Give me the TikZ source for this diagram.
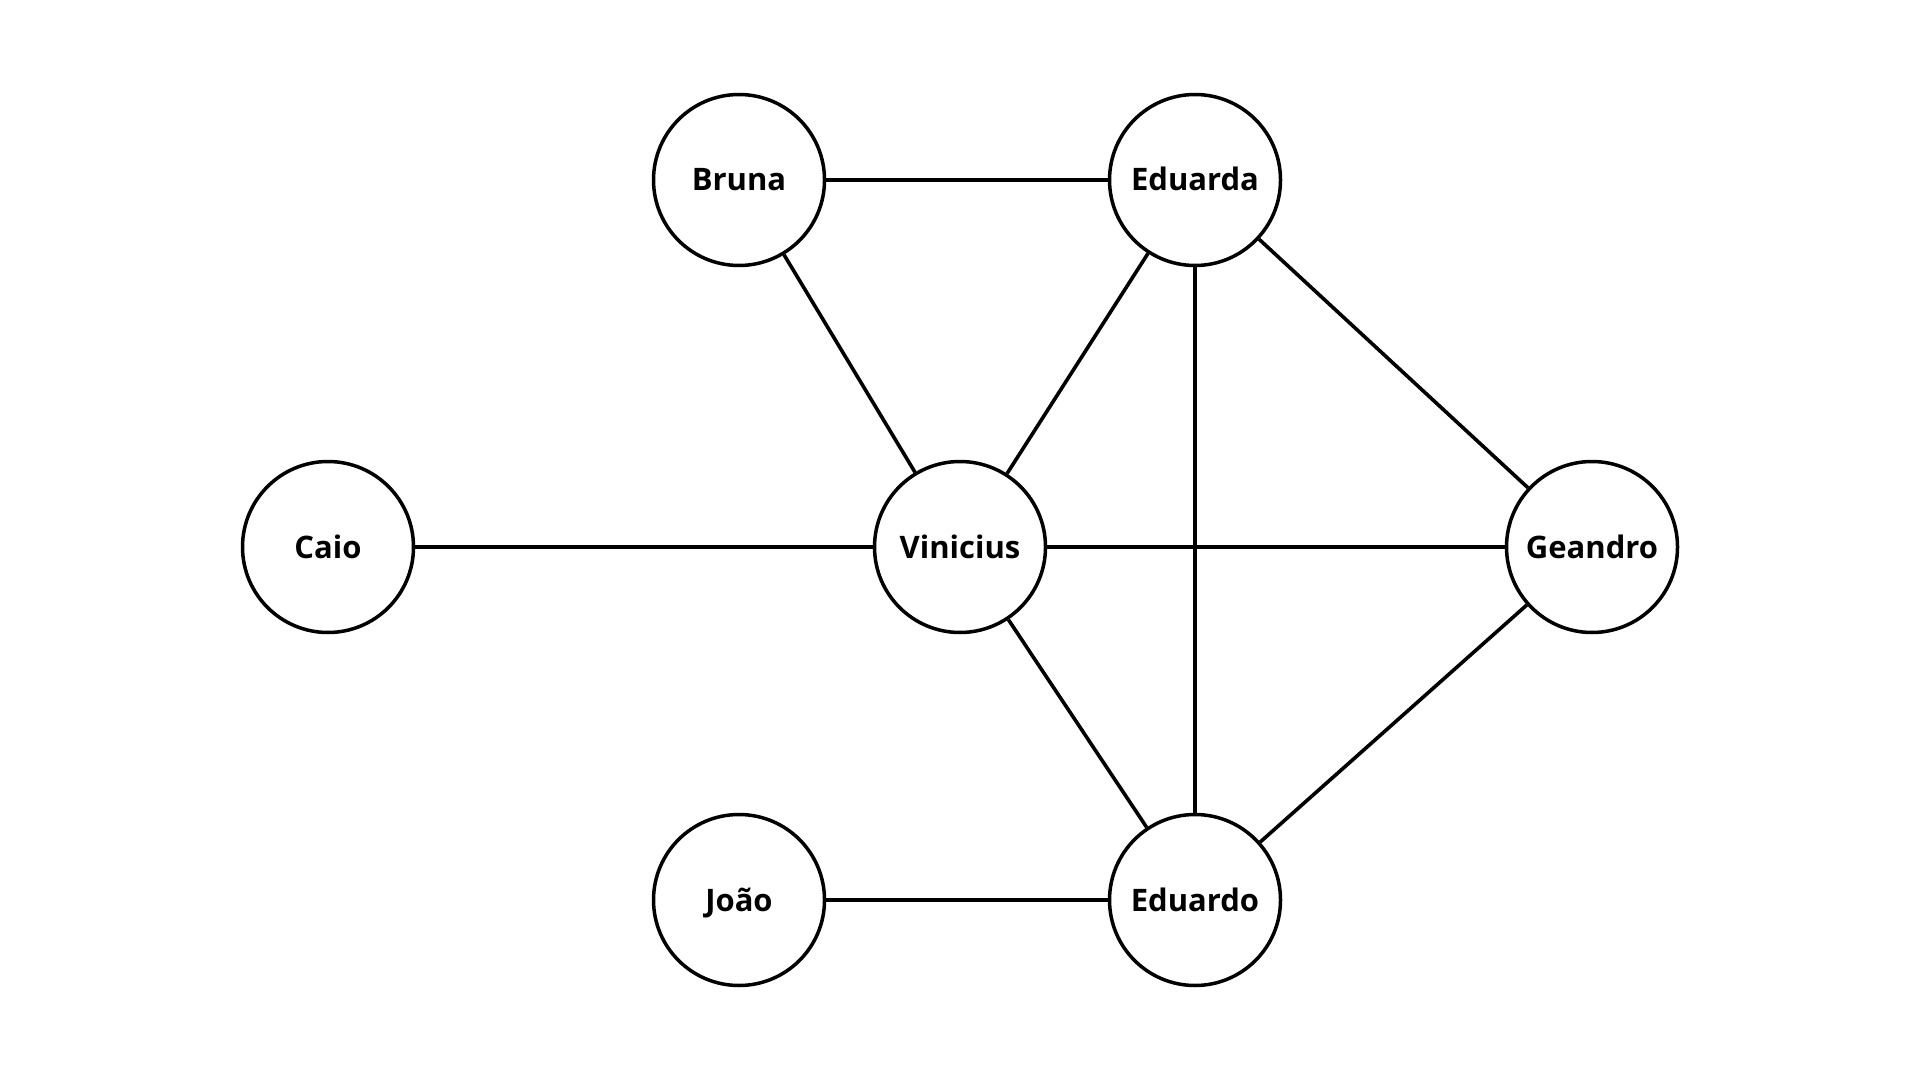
\documentclass[tikz,border=0pt]{standalone}
\usepackage{fontspec}
\setmainfont{Open Sans}
\usetikzlibrary{positioning}
\tikzset{
  person/.style={circle,draw,line width=1.75pt,minimum size=85.5pt,inner sep=0pt,
    text height=11pt,text depth=0pt,font=\fontsize{15.5}{18}\selectfont\bfseries},
  link/.style={line width=1.8pt}
}

\begin{document}
\begin{tikzpicture}[x=0.5pt,y=-0.5pt]
\useasboundingbox (0,0) rectangle (1920,1080);
\node[person] (bruna) at (739,180) {Bruna};
\node[person] (eduarda) at (1195,180) {Eduarda};
\node[person] (caio) at (328,547) {Caio};
\node[person] (vinicius) at (960,547) {Vinicius};
\node[person] (geandro) at (1592,547) {Geandro};
\node[person] (joao) at (739,900) {João};
\node[person] (eduardo) at (1195,900) {Eduardo};
\draw[link] (bruna) -- (eduarda);
\draw[link] (bruna) -- (vinicius);
\draw[link] (eduarda) -- (vinicius);
\draw[link] (eduarda) -- (eduardo);
\draw[link] (eduarda) -- (geandro);
\draw[link] (caio) -- (vinicius);
\draw[link] (vinicius) -- (geandro);
\draw[link] (vinicius) -- (eduardo);
\draw[link] (geandro) -- (eduardo);
\draw[link] (joao) -- (eduardo);
\end{tikzpicture}
\end{document}
